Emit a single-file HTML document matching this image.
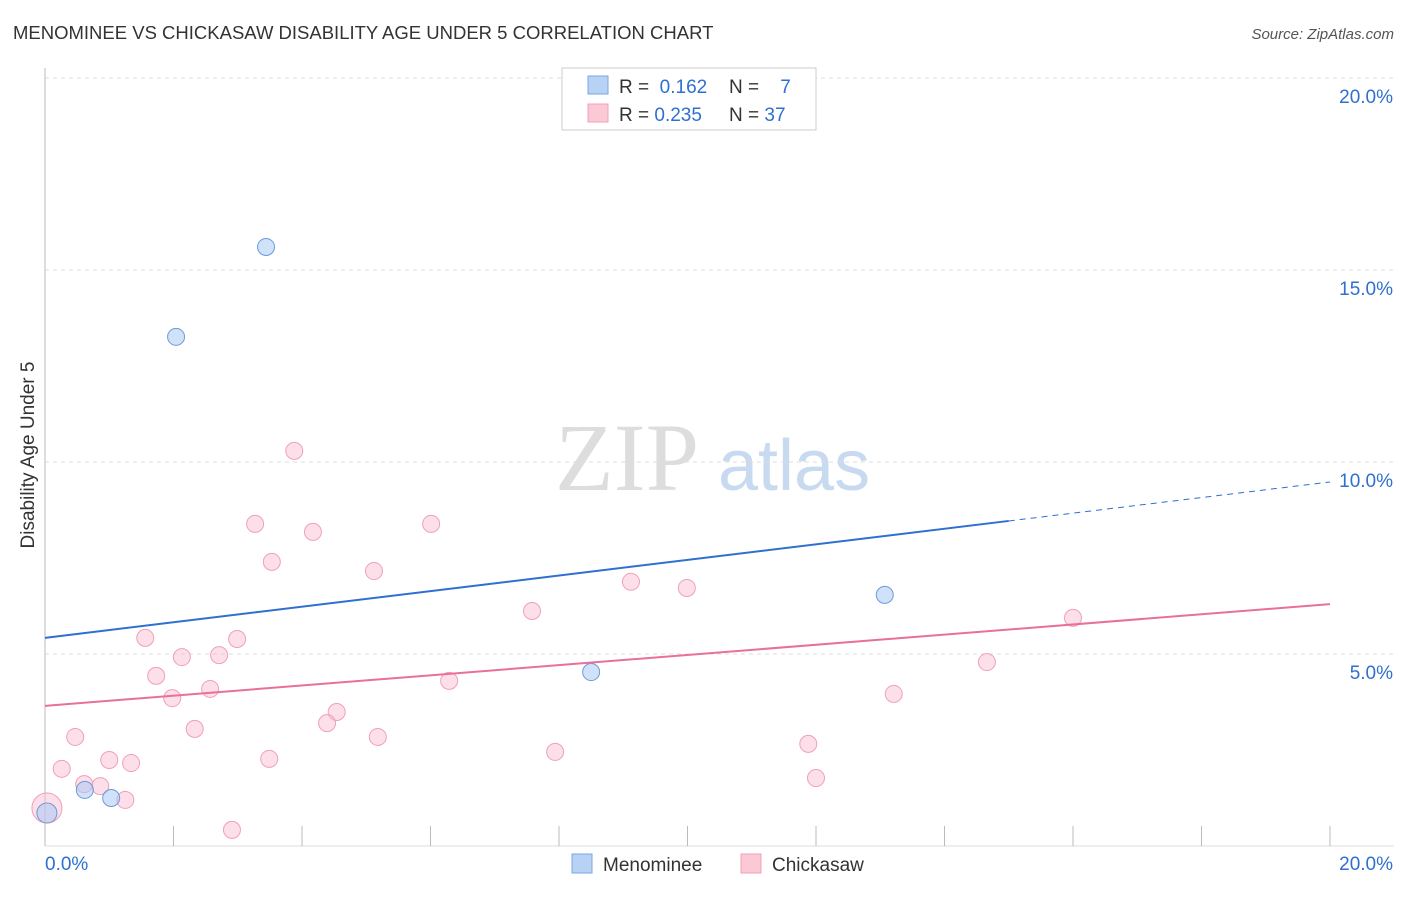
<!DOCTYPE html>
<html><head><meta charset="utf-8"><style>
body{margin:0;background:#fff;font-family:"Liberation Sans",sans-serif;}
</style></head><body>
<svg id="c" width="1406" height="892" xmlns="http://www.w3.org/2000/svg">
<text x="13" y="39" font-size="18.5" fill="#333">MENOMINEE VS CHICKASAW DISABILITY AGE UNDER 5 CORRELATION CHART</text>
<text x="1394" y="39" font-size="15" fill="#555" font-style="italic" text-anchor="end">Source: ZipAtlas.com</text>
<text x="34" y="455" font-size="19" fill="#333" text-anchor="middle" transform="rotate(-90 34 455)">Disability Age Under 5</text>
<text x="555" y="490" font-size="96" fill="#ddd" font-family="Liberation Serif,serif">ZIP</text>
<text x="718" y="490" font-size="72" fill="#c8daf0">atlas</text>
<g id="grid"></g><g id="pts"></g>
<g>
<rect x="562" y="68" width="254" height="62" fill="#fff" stroke="#ccc"/>
<rect x="588" y="76" width="20" height="18" fill="#b8d2f5" stroke="#7aa6e0"/>
<rect x="588" y="104" width="20" height="18" fill="#fbc8d6" stroke="#f0a0b8"/>
<text x="619" y="93" font-size="19" fill="#333">R = <tspan fill="#2f6fd0">&#160;0.162</tspan></text>
<text x="729" y="93" font-size="19" fill="#333">N = <tspan fill="#2f6fd0">&#160;&#160;&#160;7</tspan></text>
<text x="619" y="121" font-size="19" fill="#333">R = <tspan fill="#2f6fd0">0.235</tspan></text>
<text x="729" y="121" font-size="19" fill="#333">N = <tspan fill="#2f6fd0">37</tspan></text>
</g>
<g>
<rect x="572" y="854" width="20" height="19" fill="#b8d2f5" stroke="#7aa6e0"/>
<text x="603" y="871" font-size="19" fill="#333">Menominee</text>
<rect x="741" y="854" width="20" height="19" fill="#fbc8d6" stroke="#f0a0b8"/>
<text x="772" y="871" font-size="19" fill="#333">Chickasaw</text>
</g>
</svg>
<script>
const yTicks=[5,10,15,20];
const yTickLabels=["5.0%","10.0%","15.0%","20.0%"];
const menX=[3.44,2.04,13.07,8.5,0.62,1.03,0.03];
const menY=[15.6,13.26,6.54,4.53,1.46,1.25,0.86];
const chiX=[3.88,3.27,6.01,4.17,3.53,5.12,9.12,9.99,7.58,16.0,1.56,2.99,2.13,2.71,14.66,1.73,6.29,2.57,1.98,13.21,4.54,4.39,2.33,0.47,5.18,11.88,7.94,3.49,1.0,1.34,0.26,12.0,0.61,0.86,1.25,2.91,0.03];
const chiY=[10.29,8.39,8.39,8.18,7.40,7.16,6.88,6.72,6.12,5.94,5.42,5.39,4.92,4.97,4.79,4.43,4.30,4.09,3.85,3.96,3.49,3.20,3.05,2.84,2.84,2.66,2.45,2.27,2.24,2.16,2.01,1.77,1.61,1.56,1.20,0.42,0.99];
const menLine=[5.42,9.48];
const chiLine=[3.65,6.30];
const X=v=>45+v*64.25, Y=v=>846-v*38.4;
const NS="http://www.w3.org/2000/svg";
function mk(t,a,p){const e=document.createElementNS(NS,t);for(const k in a)e.setAttribute(k,a[k]);p.appendChild(e);return e;}
const g=document.getElementById('grid'), P=document.getElementById('pts');
yTicks.forEach((t,i)=>{
 const l=mk('line',{x1:45,x2:1394,y1:Y(t),y2:Y(t),stroke:'#ddd','stroke-dasharray':'4,4'},g);
 
 
 const tx=mk('text',{x:1393,y:Y(t)+25,'font-size':19,fill:'#2f6fd0','text-anchor':'end'},g);
 tx.textContent=yTickLabels[i];
 
 
});
const ax=mk('line',{x1:45,x2:45,y1:68,y2:846,stroke:'#bbb'},g);


const bx=mk('line',{x1:45,x2:1394,y1:846,y2:846,stroke:'#ddd'},g);


for(let i=0;i<=20;i+=2){
 const t=mk('line',{x1:X(i),x2:X(i),y1:826,y2:846,stroke:'#bbb'},g);
 
 
}
[["0.0%",45,'start'],["20.0%",1393,'end']].forEach(d=>{
 const t=mk('text',{x:d[1],y:870,'font-size':19,fill:'#2f6fd0','text-anchor':d[2]},g);
 t.textContent=d[0];
 
 
});
chiX.forEach((x,i)=>{
 const c=mk('circle',{cx:X(x),cy:Y(chiY[i]),r:i==36?15:8.5,fill:'rgba(249,185,205,0.45)',stroke:'#f0a0b8','stroke-width':1},P);
 
 
});
menX.forEach((x,i)=>{
 const c=mk('circle',{cx:X(x),cy:Y(menY[i]),r:i==6?10:8.5,fill:'rgba(170,200,245,0.55)',stroke:'#6e9ad8','stroke-width':1},P);
 
 
});
const mAt=v=>menLine[0]+(menLine[1]-menLine[0])*v/20;
const l1=mk('line',{x1:X(0),y1:Y(mAt(0)),x2:X(15),y2:Y(mAt(15)),stroke:'#2f6fd0','stroke-width':2},P);


const l2=mk('line',{x1:X(15),y1:Y(mAt(15)),x2:X(20),y2:Y(mAt(20)),stroke:'#2f6fd0','stroke-width':1,'stroke-dasharray':'6,5'},P);


const l3=mk('line',{x1:X(0),y1:Y(chiLine[0]),x2:X(20),y2:Y(chiLine[1]),stroke:'#e8709a','stroke-width':2},P);


</script>
</body></html>
